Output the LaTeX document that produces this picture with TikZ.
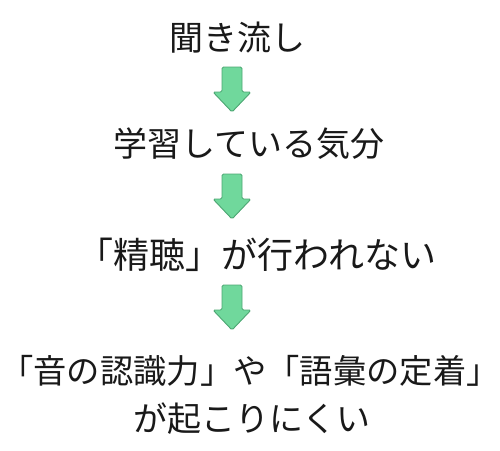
\documentclass[tikz,border=0pt]{standalone}
\usepackage{fontspec}
\newfontfamily\jpfont{Noto Sans CJK JP}
\definecolor{arrowfill}{RGB}{112,216,156}
\definecolor{arrowline}{RGB}{76,166,114}
\definecolor{txt}{RGB}{25,25,25}
\tikzset{
  line/.style={font=\jpfont\fontsize{34}{40}\selectfont, text=txt, inner sep=0pt, anchor=base},
  blockarrow/.pic={
    \draw[arrowline, fill=arrowfill, line width=0.9pt, line join=round, rounded corners=1.5pt]
      (-10,0) -- (10,0) -- (10,-25) -- (19,-25) -- (0,-45) -- (-19,-25) -- (-10,-25) -- cycle;
  }
}
\begin{document}
\begin{tikzpicture}[x=1pt,y=-1pt]
\useasboundingbox (0,0) rectangle (500,450);
\node[line] (l1) at (237,50) {聞き流し};
\node[line] (l2) at (249,156) {学習している気分};
\node[line, font=\jpfont\fontsize{36}{40}\selectfont] (l3) at (257,268) {「精聴」が行われない};
\node[line, font=\jpfont\fontsize{33.3}{40}\selectfont] (l4) at (250,383) {「音の認識力」や「語彙の定着」};
\node[line] (l5) at (252,431) {が起こりにくい};
\coordinate (a1) at (232,67);
\coordinate (a2) at (232,174);
\coordinate (a3) at (232,285);
\pic[yscale=-1] at (a1) {blockarrow};
\pic[yscale=-1] at (a2) {blockarrow};
\pic[yscale=-1] at (a3) {blockarrow};
\end{tikzpicture}
\end{document}
